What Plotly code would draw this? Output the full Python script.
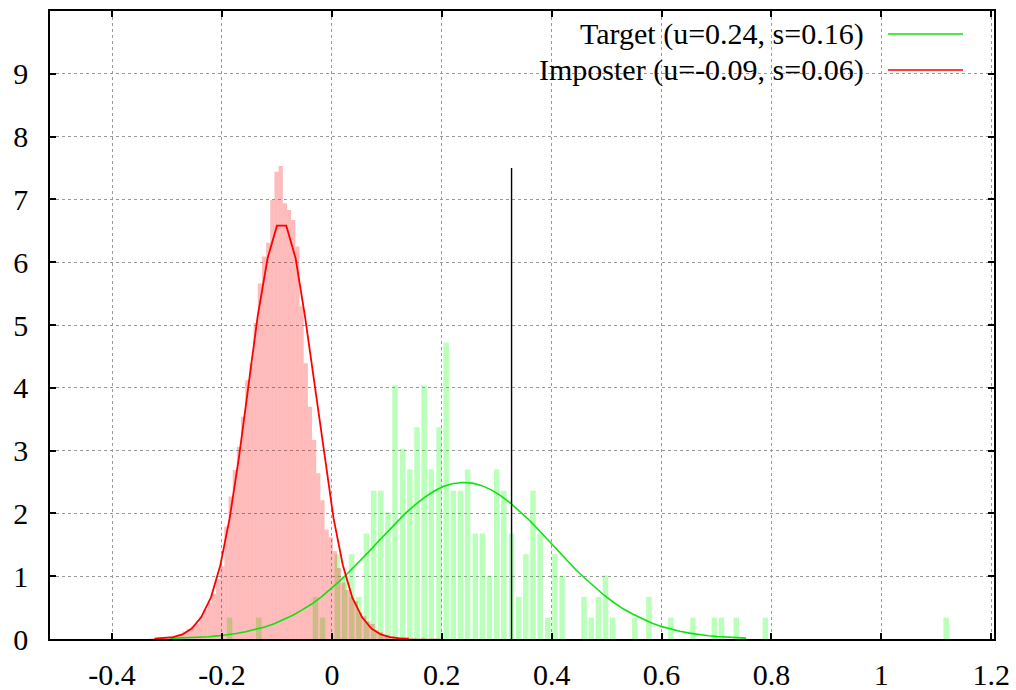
import plotly.graph_objects as go

# ---------------- data ----------------
x_tick_values = [-0.4, -0.2, 0, 0.2, 0.4, 0.6, 0.8, 1.0, 1.2]
x_tick_labels = ["-0.4", "-0.2", "0", "0.2", "0.4", "0.6", "0.8", "1", "1.2"]
y_tick_values = [0, 1, 2, 3, 4, 5, 6, 7, 8, 9]
y_tick_labels = ["0", "1", "2", "3", "4", "5", "6", "7", "8", "9"]

legend_labels = ["Target (u=0.24, s=0.16)", "Imposter (u=-0.09, s=0.06)"]

# Target score histogram (bin centres, density)
target_bin_centers = [-0.186, -0.133, -0.030, -0.017, 0.010, 0.023, 0.036, 0.049, 0.063, 0.076,
                      0.089, 0.102, 0.115, 0.129, 0.142, 0.155, 0.168, 0.181, 0.195, 0.208,
                      0.221, 0.234, 0.247, 0.261, 0.274, 0.287, 0.300, 0.313, 0.327, 0.340,
                      0.353, 0.366, 0.379, 0.393, 0.406, 0.419, 0.459, 0.472, 0.485, 0.498,
                      0.511, 0.551, 0.577, 0.617, 0.657, 0.696, 0.709, 0.736, 0.789, 1.118]
target_density = [0.34, 0.34, 0.67, 0.34, 1.35, 1.01, 1.35, 0.67, 1.68, 2.36,
                  2.36, 2.02, 4.04, 3.03, 2.70, 3.37, 4.04, 2.70, 3.37, 4.72,
                  2.36, 2.36, 2.70, 1.68, 1.68, 1.01, 2.70, 2.36, 1.68, 0.67,
                  1.35, 2.36, 1.68, 0.34, 1.35, 1.01, 0.67, 0.34, 0.67, 1.01,
                  0.34, 0.34, 0.67, 0.34, 0.34, 0.34, 0.34, 0.34, 0.34, 0.34]

# Imposter score histogram: contiguous bins
imposter_first_bin_center = -0.3287
imposter_bin_width = 0.0076
imposter_density = [0.01, 0.01, 0.02, 0.02, 0.03, 0.04, 0.05, 0.08, 0.12, 0.16,
                    0.20, 0.25, 0.36, 0.47, 0.58, 0.72, 0.95, 1.16, 1.79, 2.27,
                    2.69, 3.06, 3.54, 4.12, 4.39, 5.03, 5.66, 6.09, 6.31, 6.99,
                    7.44, 7.53, 6.94, 6.83, 6.67, 6.25, 5.30, 4.39, 3.70, 3.17,
                    2.64, 2.21, 1.74, 1.62, 1.40, 1.13, 0.90, 0.78, 0.67, 0.60,
                    0.42, 0.36, 0.28, 0.24, 0.14, 0.11, 0.06, 0.05, 0.04, 0.03,
                    0.03, 0.02, 0.02, 0.02, 0.01, 0.02, 0.01, 0.01, 0.01, 0.01]

target_fit_x = [-0.294, -0.277, -0.260, -0.242, -0.225, -0.208, -0.191, -0.174, -0.157, -0.139,
                -0.122, -0.105, -0.088, -0.071, -0.054, -0.036, -0.019, -0.002, 0.015, 0.032,
                0.050, 0.067, 0.084, 0.101, 0.118, 0.135, 0.153, 0.170, 0.187, 0.204,
                0.221, 0.238, 0.256, 0.273, 0.290, 0.307, 0.324, 0.341, 0.359, 0.376,
                0.393, 0.410, 0.427, 0.444, 0.462, 0.479, 0.496, 0.513, 0.530, 0.548,
                0.565, 0.582, 0.599, 0.616, 0.633, 0.651, 0.668, 0.685, 0.702, 0.719,
                0.736, 0.754]
target_fit_y = [0.010, 0.014, 0.019, 0.026, 0.036, 0.049, 0.066, 0.088, 0.115, 0.150,
                0.192, 0.244, 0.306, 0.378, 0.464, 0.561, 0.671, 0.794, 0.929, 1.074,
                1.227, 1.387, 1.549, 1.709, 1.867, 2.013, 2.147, 2.264, 2.360, 2.431,
                2.476, 2.493, 2.482, 2.442, 2.375, 2.284, 2.171, 2.040, 1.895, 1.739,
                1.579, 1.417, 1.257, 1.102, 0.955, 0.819, 0.693, 0.581, 0.481, 0.393,
                0.318, 0.255, 0.201, 0.157, 0.122, 0.093, 0.070, 0.052, 0.039, 0.028,
                0.020, 0.014]

imposter_fit_x = [-0.323, -0.306, -0.289, -0.272, -0.255, -0.238, -0.220, -0.203, -0.186, -0.169,
                  -0.152, -0.135, -0.117, -0.100, -0.083, -0.066, -0.049, -0.031, -0.014, 0.003,
                  0.020, 0.037, 0.055, 0.072, 0.089, 0.106, 0.123, 0.140]
imposter_fit_y = [0.004, 0.011, 0.030, 0.073, 0.165, 0.345, 0.664, 1.175, 1.924, 2.899,
                  4.025, 5.142, 6.062, 6.581, 6.581, 6.062, 5.142, 4.025, 2.899, 1.924,
                  1.175, 0.664, 0.345, 0.165, 0.073, 0.030, 0.011, 0.004]

# Decision threshold marker
threshold_x = 0.327
threshold_top = 7.5

# ---------------- figure ----------------
FONT = "Liberation Serif"
FS = 30
GREEN_LINE = "#10e010"
RED_LINE = "#ff0000"

imposter_centers = [imposter_first_bin_center + i * imposter_bin_width
                    for i in range(len(imposter_density))]

fig = go.Figure()
fig.add_trace(go.Bar(
    x=target_bin_centers, y=target_density, width=0.0100,
    marker=dict(color="rgba(0,255,0,0.27)", line=dict(width=0)),
    showlegend=False, hoverinfo="skip"))
fig.add_trace(go.Bar(
    x=imposter_centers, y=imposter_density, width=imposter_bin_width,
    marker=dict(color="rgba(255,0,0,0.27)", line=dict(width=0)),
    showlegend=False, hoverinfo="skip"))
fig.add_trace(go.Scatter(
    x=target_fit_x, y=target_fit_y, mode="lines",
    line=dict(color=GREEN_LINE, width=1.6), showlegend=False))
fig.add_trace(go.Scatter(
    x=imposter_fit_x, y=imposter_fit_y, mode="lines",
    line=dict(color=RED_LINE, width=1.8), showlegend=False))
fig.add_trace(go.Scatter(
    x=[threshold_x, threshold_x], y=[0, threshold_top], mode="lines",
    line=dict(color="black", width=1.4), showlegend=False))

# gnuplot-style key: right-aligned text followed by line sample
L, R, T, B = 50, 22, 11, 51
W, H = 1016, 690
pw, ph = W - L - R, H - T - B
def px(xp):
    return (xp - L) / pw
def py(yp):
    return (H - B - yp) / ph

key_rows = [(legend_labels[0], GREEN_LINE, 34), (legend_labels[1], RED_LINE, 70)]
for text, col, ypix in key_rows:
    fig.add_annotation(xref="paper", yref="paper", x=px(866), y=py(ypix),
                       text=text, showarrow=False, xanchor="right", yanchor="middle",
                       font=dict(family=FONT, size=FS, color="black"))
    fig.add_shape(type="line", xref="paper", yref="paper",
                  x0=px(888), x1=px(963), y0=py(ypix), y1=py(ypix),
                  line=dict(color=col, width=1.6))

axis_common = dict(
    showline=True, linecolor="black", linewidth=1.5, mirror="allticks",
    ticks="inside", ticklen=6, tickwidth=1.5, tickcolor="black",
    showgrid=True, gridcolor="#9a9a9a", gridwidth=1, griddash="dot",
    zeroline=False, automargin=False,
    tickfont=dict(family=FONT, size=FS, color="black"),
)

fig.update_layout(
    width=W, height=H,
    margin=dict(l=L, r=R, t=T, b=B, pad=0, autoexpand=False),
    paper_bgcolor="white", plot_bgcolor="white",
    barmode="overlay",
    showlegend=False,
    xaxis=dict(range=[-0.513, 1.205], tickmode="array",
               tickvals=x_tick_values, ticktext=x_tick_labels,
               ticklabelstandoff=8, **axis_common),
    yaxis=dict(range=[0, 10], tickmode="array",
               tickvals=y_tick_values, ticktext=y_tick_labels,
               ticklabelstandoff=14, **axis_common),
)

fig.write_html("out.html")
